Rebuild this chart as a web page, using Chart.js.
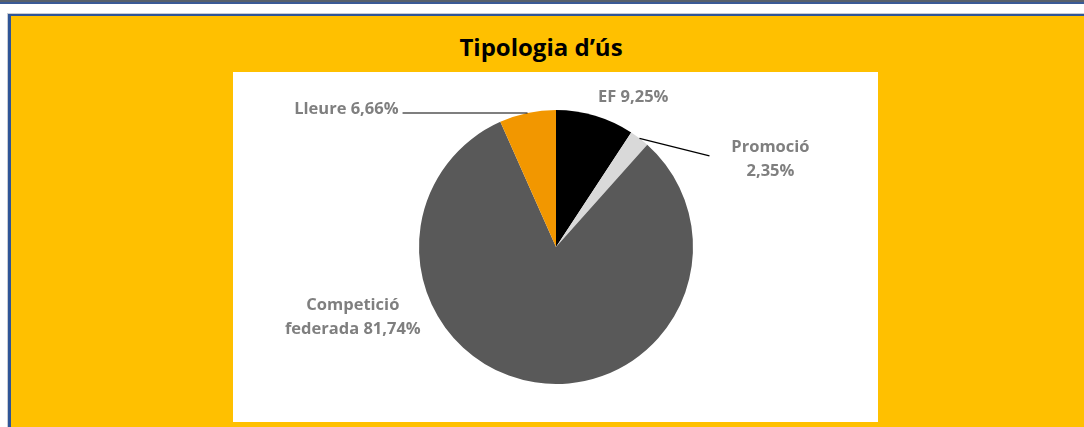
<!DOCTYPE html>
<html>
<head>
<meta charset="utf-8">
<script src="https://cdn.jsdelivr.net/npm/chart.js@4.4.1/dist/chart.umd.min.js"></script>
<style>
  html, body { margin: 0; padding: 0; width: 1084px; height: 427px; overflow: hidden; background: #fff; }
  #topGray { position: absolute; left: 0; top: 0; width: 1084px; height: 2px; background: #58606b; }
  #topBlue { position: absolute; left: 0; top: 2px; width: 1084px; height: 2px; background: #3b5a96; }
  #frameEdge { position: absolute; left: 7px; top: 13px; width: 1077px; height: 414px; background: #c8ccd4; }
  #frame { position: absolute; left: 8px; top: 14px; width: 1076px; height: 413px; background: #2f5597; }
  #gold { position: absolute; left: 11px; top: 16px; width: 1073px; height: 411px; background: #ffc000; }
  #panel { position: absolute; left: 233px; top: 72px; width: 645px; height: 350px; background: #fff; }
  #title { position: absolute; left: 341px; top: 30px; width: 400px; text-align: center;
           font: bold 24px "Open Sans", sans-serif; color: #000; }
  #chartBox { position: absolute; left: 233px; top: 72px; }
</style>
</head>
<body>
<div id="topGray"></div>
<div id="topBlue"></div>
<div id="frameEdge"></div>
<div id="frame"></div>
<div id="gold"></div>
<div id="panel"></div>
<div id="title">Tipologia d’ús</div>
<div id="chartBox"><canvas id="pie" width="645" height="350"></canvas></div>
<script>
// dades del gràfic
var categories = ["EF", "Promoció", "Competició federada", "Lleure"];
var values = [9.25, 2.35, 81.74, 6.66];
var valueLabels = ["9,25%", "2,35%", "81,74%", "6,66%"];
var sliceColors = ["#000000", "#d9d9d9", "#595959", "#f29700"];

// etiquetes: línies de text, posició relativa al punt mig de l'arc, i línia guia
var labelLines = [
  ["EF 9,25%"],
  ["Promoció", "2,35%"],
  ["Competició", "federada 81,74%"],
  ["Lleure 6,66%"]
];
var labelSetup = [
  { dx: 38, dy: -18, align: "center", leader: null },
  { dx: 131, dy: 9, align: "center", leader: [70, 17.5] },
  { dx: -182, dy: -77, align: "center", leader: null },
  { dx: -129, dy: -4, align: "right", leader: [-125, 0] }
];

var pieLabels = {
  id: "pieLabels",
  afterDatasetsDraw: function (chart) {
    var ctx = chart.ctx;
    var arcs = chart.getDatasetMeta(0).data;
    ctx.save();
    arcs.forEach(function (arc, i) {
      var mid = (arc.startAngle + arc.endAngle) / 2;
      var px = arc.x + Math.cos(mid) * arc.outerRadius;
      var py = arc.y + Math.sin(mid) * arc.outerRadius;
      var s = labelSetup[i];
      if (s.leader) {
        ctx.strokeStyle = "#000";
        ctx.lineWidth = 1.2;
        ctx.beginPath();
        ctx.moveTo(px, py);
        ctx.lineTo(px + s.leader[0], py + s.leader[1]);
        ctx.stroke();
      }
      ctx.fillStyle = "#7f7f7f";
      ctx.font = "bold 16.5px 'Open Sans', sans-serif";
      ctx.textAlign = s.align;
      ctx.textBaseline = "middle";
      labelLines[i].forEach(function (line, k) {
        ctx.fillText(line, px + s.dx, py + s.dy + k * 24);
      });
    });
    ctx.restore();
  }
};

new Chart(document.getElementById("pie").getContext("2d"), {
  type: "pie",
  data: {
    labels: categories,
    datasets: [{
      data: values,
      backgroundColor: sliceColors,
      borderWidth: 0
    }]
  },
  options: {
    responsive: false,
    animation: false,
    devicePixelRatio: 1,
    layout: { padding: { top: 38, bottom: 38, left: 1, right: 0 } },
    plugins: {
      legend: { display: false },
      tooltip: { enabled: false }
    }
  },
  plugins: [pieLabels]
});
</script>
</body>
</html>
